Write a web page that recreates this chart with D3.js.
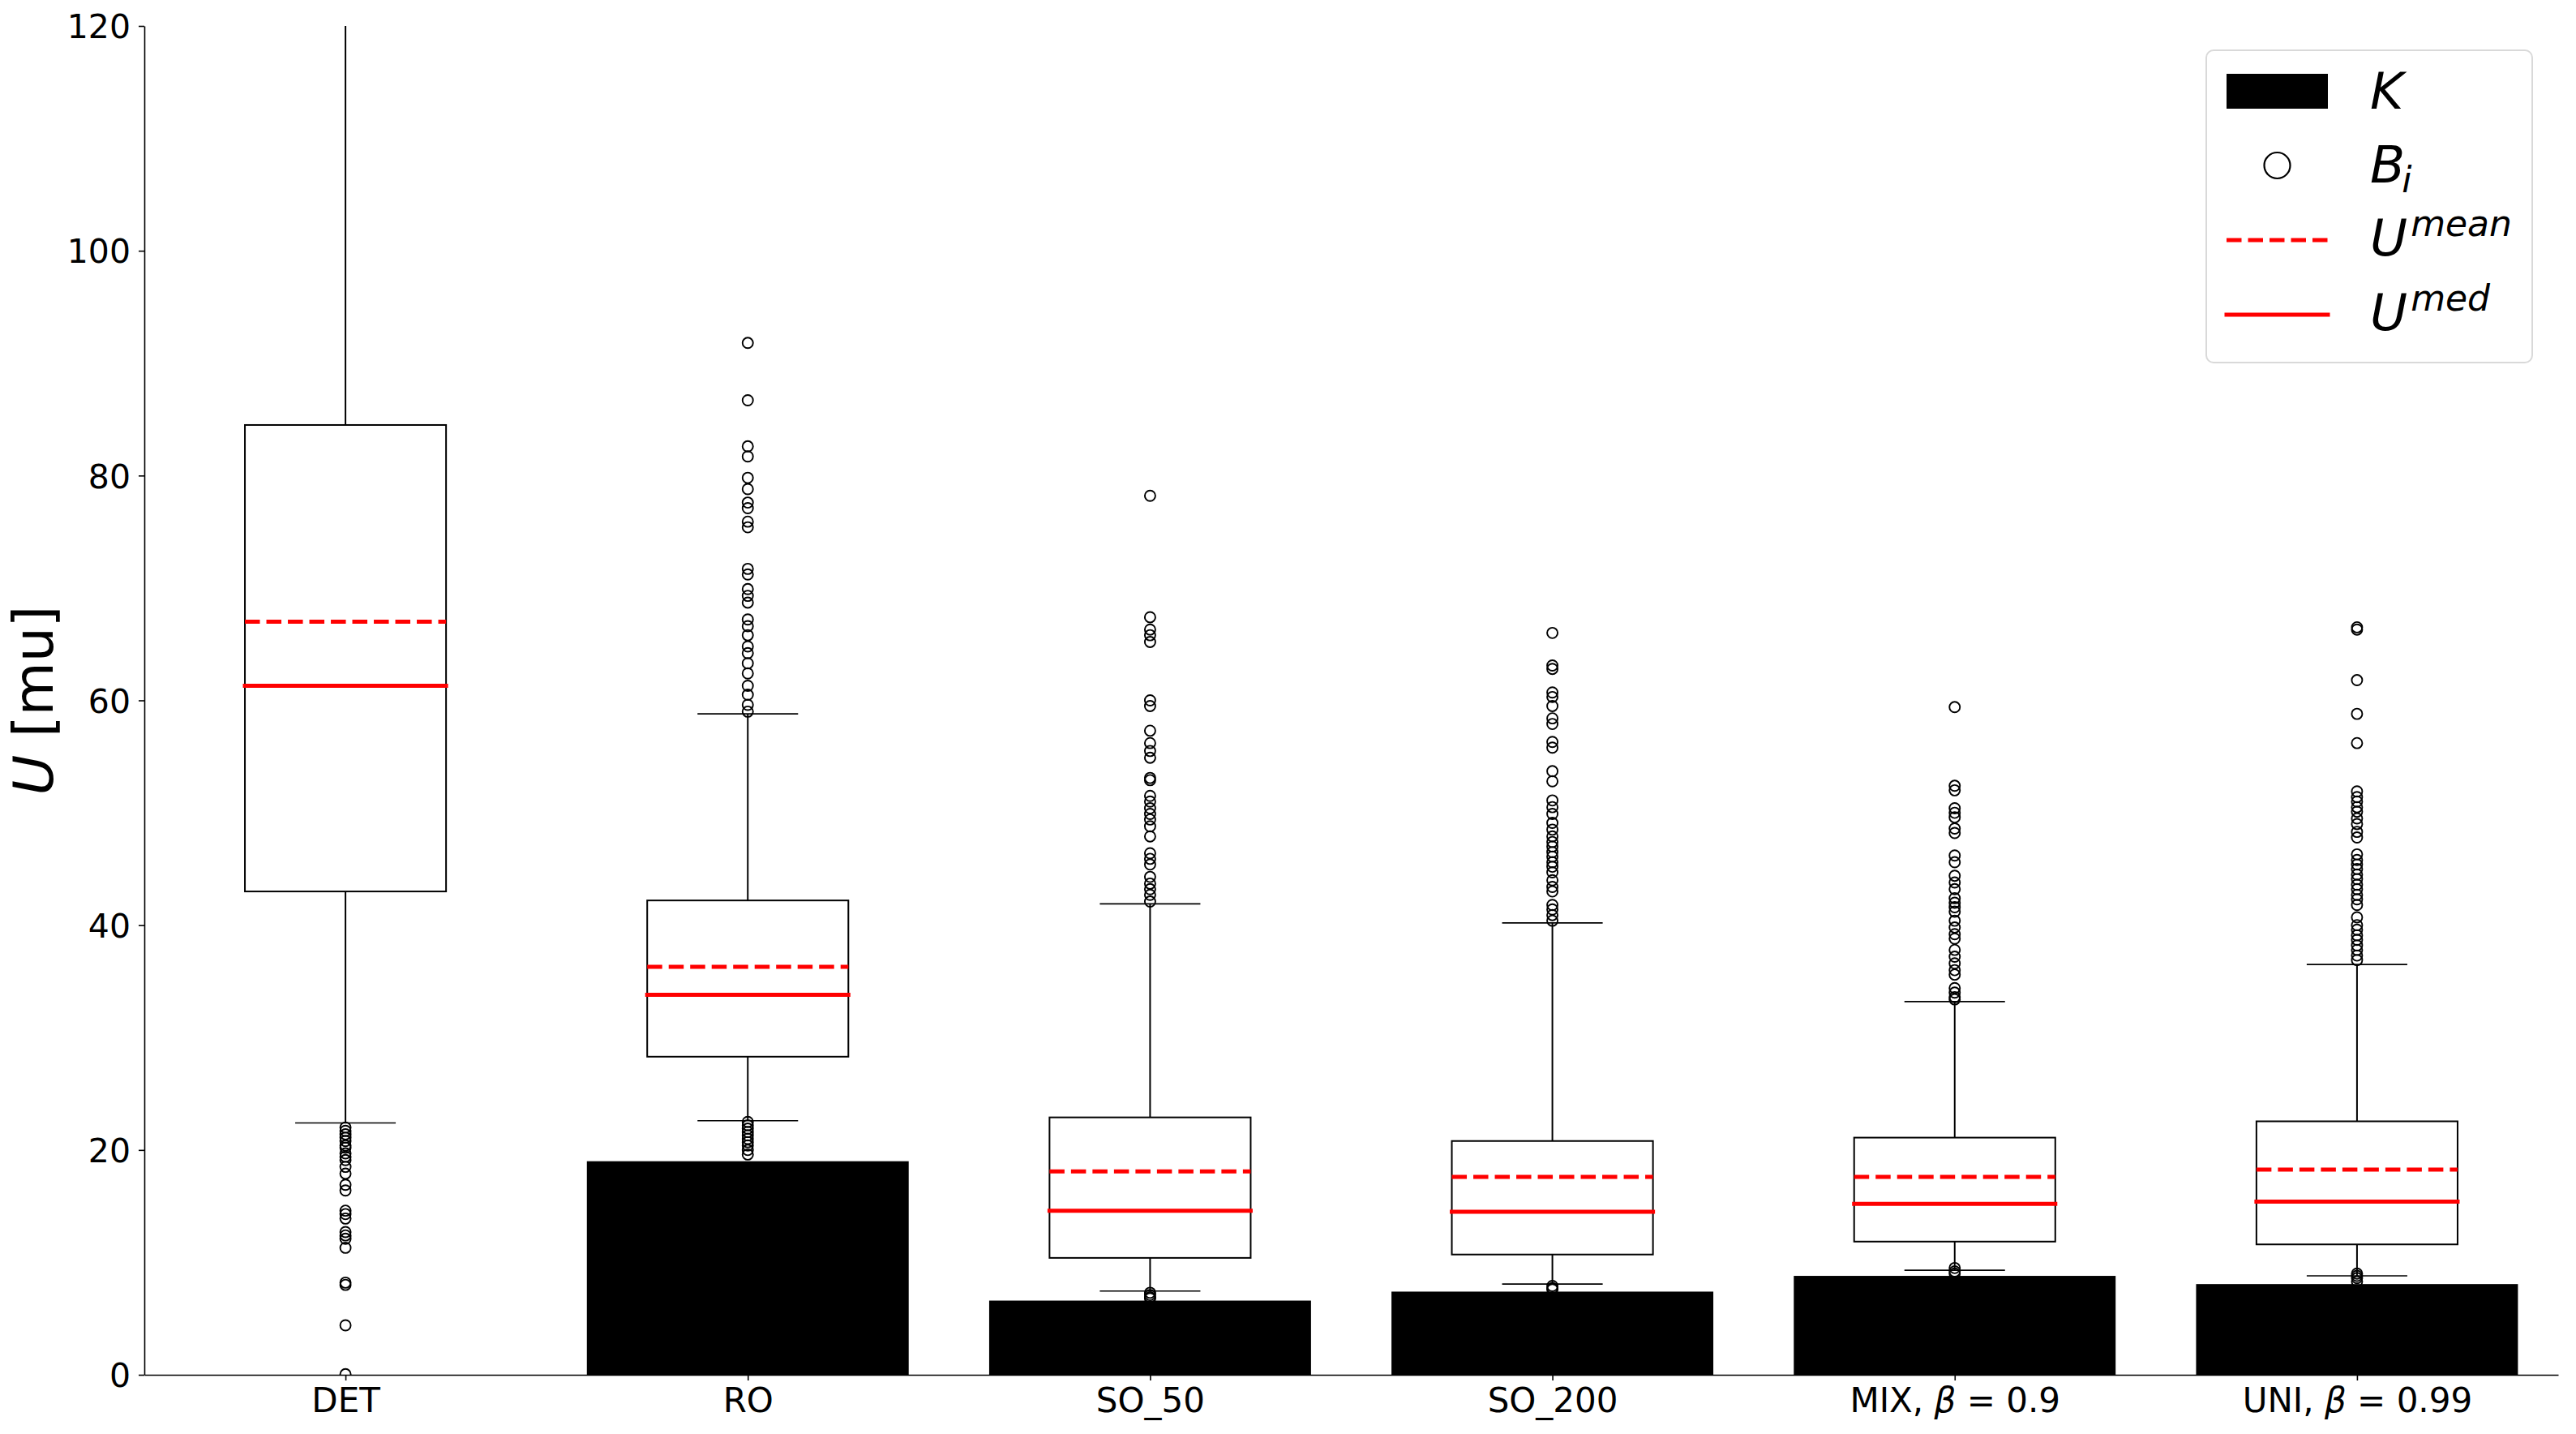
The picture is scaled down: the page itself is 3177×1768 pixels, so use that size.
<!DOCTYPE html>
<html>
<head>
<meta charset="utf-8">
<script src="https://cdn.jsdelivr.net/npm/d3@7"></script>
<style>
  body { margin: 0; background: #fff; }
  svg { display: block; font-family: "DejaVu Sans", sans-serif; }
</style>
</head>
<body>
<svg id="chart" width="3177" height="1768"></svg>
<script>
// categories and their x tick labels ([plain text, greek symbol, tail])
const categories = ["DET", "RO", "SO_50", "SO_200", "MIX", "UNI"];
const tickLabels = [
  ["DET", "", ""], ["RO", "", ""], ["SO_50", "", ""], ["SO_200", "", ""],
  ["MIX, ", "β", " = 0.9"], ["UNI, ", "β", " = 0.99"]
];
const yTicks = [0, 20, 40, 60, 80, 100, 120];

// K (bars)
const kValues = [0, 19.0, 6.6, 7.4, 8.8, 8.07];

// box plot stats of U
const q1 = [43.0, 28.3, 10.4, 10.7, 11.85, 11.6];
const q3 = [84.5, 42.2, 22.9, 20.8, 21.1, 22.55];
const medians = [61.3, 33.8, 14.6, 14.5, 15.2, 15.4];
const means = [67.0, 36.3, 18.1, 17.6, 17.6, 18.25];
const whiskerLow = [22.4, 22.6, 7.45, 8.07, 9.3, 8.8];
const whiskerHigh = [146.7, 58.8, 41.9, 40.2, 33.2, 36.5];

// fliers (B_i)
const outliersDET = [22.0, 21.7, 21.4, 21.1, 20.8, 20.4, 20.2, 19.7, 19.4, 19.1, 18.5, 17.9,
  16.9, 16.4, 14.6, 14.3, 13.9, 12.7, 12.4, 12.1, 11.3, 8.2, 8.0, 4.4, 0.05];
const outliersRO = [91.8, 86.7, 82.6, 81.7, 79.8, 78.8, 77.6, 77.1, 75.9, 75.4, 71.7, 71.2,
  69.9, 69.3, 68.7, 67.2, 66.6, 65.8, 64.8, 64.2, 63.3, 62.4, 61.3, 60.5, 59.6, 59.0,
  22.5, 22.2, 21.9, 21.6, 21.3, 21.0, 20.7, 20.4, 20.0, 19.6];
const outliersSO50 = [78.2, 67.4, 66.3, 65.8, 65.2, 60.0, 59.5, 57.3, 56.2, 55.5, 54.9,
  53.1, 52.9, 51.5, 51.0, 50.4, 49.9, 49.4, 48.8, 47.9, 46.4, 45.9, 45.4, 44.3, 43.7,
  43.2, 42.7, 42.1, 7.3, 7.1, 6.9, 6.8];
const outliersSO200 = [66.0, 63.1, 62.8, 60.7, 60.3, 59.5, 58.4, 57.9, 56.3, 55.8, 53.7,
  52.8, 51.1, 50.5, 49.9, 49.1, 48.5, 47.9, 47.4, 47.0, 46.5, 46.1, 45.6, 45.2, 44.7,
  44.0, 43.4, 43.0, 41.8, 41.4, 40.9, 40.4, 7.9, 7.7, 7.6];
const outliersMIX = [59.4, 52.4, 52.0, 50.4, 50.0, 49.6, 48.6, 48.2, 46.2, 45.6, 44.4,
  43.8, 43.2, 42.4, 42.0, 41.6, 41.2, 40.4, 39.8, 39.2, 38.8, 37.8, 37.2, 36.6, 36.0,
  35.6, 34.4, 34.0, 33.6, 33.4, 9.5, 9.2, 9.0];
const outliersUNI = [66.5, 66.3, 61.8, 58.8, 56.2, 51.9, 51.4, 51.0, 50.5, 50.1, 49.5,
  49.0, 48.3, 47.8, 46.3, 45.8, 45.4, 45.0, 44.5, 44.1, 43.6, 43.2, 42.7, 42.3, 41.8,
  40.7, 40.0, 39.6, 39.1, 38.7, 38.2, 37.8, 37.3, 36.9, 9.0, 8.8, 8.6, 8.3];
const outliers = [outliersDET, outliersRO, outliersSO50, outliersSO200, outliersMIX, outliersUNI];

const svg = d3.select("#chart");
const m = { left: 178, right: 3155, top: 32, bottom: 1695 };

const x = d3.scaleLinear().domain([-0.5, categories.length - 0.5]).range([m.left, m.right]);
const y = d3.scaleLinear().domain([0, 120]).range([m.bottom, m.top]);
const unit = x(1) - x(0);

svg.append("defs").append("clipPath").attr("id", "plot")
  .append("rect").attr("x", m.left).attr("y", m.top)
  .attr("width", m.right - m.left).attr("height", m.bottom - m.top);

const plot = svg.append("g").attr("clip-path", "url(#plot)");

// bars K
plot.selectAll("rect.k").data(kValues).join("rect")
  .attr("class", "k")
  .attr("x", (d, i) => x(i - 0.4))
  .attr("width", unit * 0.8)
  .attr("y", d => y(d))
  .attr("height", d => y(0) - y(d))
  .attr("fill", "#000");

const boxes = plot.selectAll("g.box").data(categories).join("g").attr("class", "box");
const bw = unit * 0.5, cw = unit * 0.25;

// whiskers
boxes.append("line")
  .attr("x1", (d, i) => x(i)).attr("x2", (d, i) => x(i))
  .attr("y1", (d, i) => y(q3[i])).attr("y2", (d, i) => y(whiskerHigh[i]))
  .attr("stroke", "#000").attr("stroke-width", 2);
boxes.append("line")
  .attr("x1", (d, i) => x(i)).attr("x2", (d, i) => x(i))
  .attr("y1", (d, i) => y(q1[i])).attr("y2", (d, i) => y(whiskerLow[i]))
  .attr("stroke", "#000").attr("stroke-width", 2);
// caps
[whiskerHigh, whiskerLow].forEach(arr => {
  boxes.append("line")
    .attr("x1", (d, i) => x(i) - cw / 2).attr("x2", (d, i) => x(i) + cw / 2)
    .attr("y1", (d, i) => y(arr[i])).attr("y2", (d, i) => y(arr[i]))
    .attr("stroke", "#000").attr("stroke-width", 1.6);
});
// box
boxes.append("rect")
  .attr("x", (d, i) => x(i) - bw / 2).attr("width", bw)
  .attr("y", (d, i) => y(q3[i])).attr("height", (d, i) => y(q1[i]) - y(q3[i]))
  .attr("fill", "#fff").attr("stroke", "#000").attr("stroke-width", 2);
// median
boxes.append("line")
  .attr("x1", (d, i) => x(i) - bw / 2).attr("x2", (d, i) => x(i) + bw / 2)
  .attr("y1", (d, i) => y(medians[i])).attr("y2", (d, i) => y(medians[i]))
  .attr("stroke", "#ff0000").attr("stroke-width", 5).attr("stroke-linecap", "square");
// mean
boxes.append("line")
  .attr("x1", (d, i) => x(i) - bw / 2).attr("x2", (d, i) => x(i) + bw / 2)
  .attr("y1", (d, i) => y(means[i])).attr("y2", (d, i) => y(means[i]))
  .attr("stroke", "#ff0000").attr("stroke-width", 5).attr("stroke-dasharray", "18.5,8");
// fliers
boxes.each(function (d, i) {
  d3.select(this).selectAll("circle").data(outliers[i]).join("circle")
    .attr("cx", x(i)).attr("cy", v => y(v)).attr("r", 6.5)
    .attr("fill", "none").attr("stroke", "#000").attr("stroke-width", 1.9);
});

// axes
const yAxis = svg.append("g").attr("transform", `translate(${m.left},0)`)
  .call(d3.axisLeft(y).tickValues(yTicks).tickSize(7).tickSizeOuter(0).tickPadding(10));
const xAxis = svg.append("g").attr("transform", `translate(0,${m.bottom})`)
  .call(d3.axisBottom(x).tickValues(d3.range(categories.length)).tickSize(7)
    .tickSizeOuter(0).tickPadding(12).tickFormat(""));
[yAxis, xAxis].forEach(a => {
  a.select(".domain").attr("stroke", "#000").attr("stroke-width", 1.6);
  a.selectAll(".tick line").attr("stroke", "#000").attr("stroke-width", 1.6);
  a.selectAll("text").attr("font-size", 41).attr("fill", "#000")
    .attr("font-family", "DejaVu Sans");
});
yAxis.selectAll(".tick text").attr("dy", "0.36em");
xAxis.selectAll(".tick text").each(function (d, i) {
  const t = d3.select(this).attr("dy", "0").attr("y", 46).attr("font-size", 42);
  const parts = tickLabels[i];
  t.append("tspan").text(parts[0]);
  if (parts[1]) {
    t.append("tspan").attr("font-style", "italic").text(parts[1]);
    t.append("tspan").text(parts[2]);
  }
});

// y label
svg.append("text")
  .attr("transform", `translate(65,${(m.top + m.bottom) / 2}) rotate(-90)`)
  .attr("text-anchor", "middle").attr("font-size", 68)
  .call(t => {
    t.append("tspan").attr("font-style", "italic").text("U");
    t.append("tspan").text(" [mu]");
  });

// legend
const lg = svg.append("g");
lg.append("rect").attr("x", 2721).attr("y", 62).attr("width", 402).attr("height", 385)
  .attr("rx", 9).attr("fill", "#fff").attr("fill-opacity", 0.8)
  .attr("stroke", "#d9d9d9").attr("stroke-width", 2);
const hx0 = 2746, hx1 = 2871, tx = 2923;
lg.append("rect").attr("x", hx0).attr("y", 91).attr("width", hx1 - hx0).attr("height", 43)
  .attr("fill", "#000");
lg.append("circle").attr("cx", (hx0 + hx1) / 2).attr("cy", 204).attr("r", 16)
  .attr("fill", "none").attr("stroke", "#000").attr("stroke-width", 2.2);
lg.append("line").attr("x1", hx0).attr("x2", hx1).attr("y1", 296).attr("y2", 296)
  .attr("stroke", "#ff0000").attr("stroke-width", 5).attr("stroke-dasharray", "18.5,8");
lg.append("line").attr("x1", hx0).attr("x2", hx1).attr("y1", 388).attr("y2", 388)
  .attr("stroke", "#ff0000").attr("stroke-width", 5).attr("stroke-linecap", "square");

const legText = (yb, main, sup, sub) => {
  const t = lg.append("text").attr("x", tx).attr("y", yb)
    .attr("font-size", 63).attr("font-style", "italic");
  t.append("tspan").text(main);
  if (sup) t.append("tspan").attr("font-size", 44).attr("dy", -24).attr("dx", 4).text(sup);
  if (sub) t.append("tspan").attr("font-size", 44).attr("dy", 12).attr("dx", -4).text(sub);
};
legText(134, "K");
legText(225, "B", null, "i");
legText(315, "U", "mean");
legText(407, "U", "med");
</script>
</body>
</html>
